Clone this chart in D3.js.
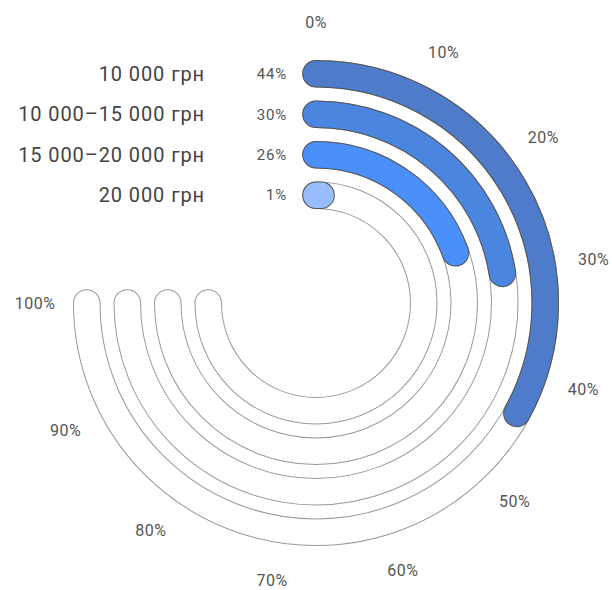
<!DOCTYPE html>
<html>
<head>
<meta charset="utf-8">
<script src="https://cdn.jsdelivr.net/npm/d3@7"></script>
<style>
  body { margin: 0; background: #fff; }
  svg { font-family: Roboto, "Noto Sans", sans-serif; }
</style>
</head>
<body>
<div id="chart"></div>
<script>
// data
const categories = ["10 000 грн", "10 000–15 000 грн", "15 000–20 000 грн", "20 000 грн"];
const values = [44, 30, 26, 1];
const colors = ["#4e7ccb", "#4a85e0", "#4b8ffb", "#99bcfd"];
const tickValues = [0, 10, 20, 30, 40, 50, 60, 70, 80, 90, 100];

const width = 612, height = 590;
const cx = 316, cy = 303;

const svg = d3.select("#chart")
    .append("svg")
    .attr("width", width)
    .attr("height", height);

const g = svg.append("g")
    .attr("transform", `translate(${cx},${cy})`);

// value -> angle (0..270 degrees, clockwise from top)
const angle = d3.scaleLinear()
    .domain([0, 100])
    .range([0, 1.5 * Math.PI]);

// outermost ring is the first category
const radius = d3.scaleBand()
    .domain(categories.slice().reverse())
    .range([94, 243])
    .paddingInner(0.32)
    .paddingOuter(0);

const bw = radius.bandwidth();

function arcPath(r, a1) {
    const p = d3.path();
    p.arc(0, 0, r, -Math.PI / 2, -Math.PI / 2 + a1, false);
    return p.toString();
}

// background tracks (grey outline, white inside)
categories.forEach(c => {
    const r = radius(c) + bw / 2;
    g.append("path")
        .attr("d", arcPath(r, angle(100)))
        .attr("fill", "none")
        .attr("stroke", "#9a9a9a")
        .attr("stroke-width", bw)
        .attr("stroke-linecap", "round");
    g.append("path")
        .attr("d", arcPath(r, angle(100)))
        .attr("fill", "none")
        .attr("stroke", "#fff")
        .attr("stroke-width", bw - 2)
        .attr("stroke-linecap", "round");
});

// value bars
categories.forEach((c, i) => {
    const r = radius(c) + bw / 2;
    const a = Math.max(angle(values[i]), 0.001);
    g.append("path")
        .attr("d", arcPath(r, a))
        .attr("fill", "none")
        .attr("stroke", "#555")
        .attr("stroke-width", bw)
        .attr("stroke-linecap", "round");
    g.append("path")
        .attr("d", arcPath(r, a))
        .attr("fill", "none")
        .attr("stroke", colors[i])
        .attr("stroke-width", bw - 2)
        .attr("stroke-linecap", "round");
});

// category labels and values on the left of the start line
categories.forEach((c, i) => {
    const y = -(radius(c) + bw / 2);
    g.append("text")
        .attr("x", 205 - cx)
        .attr("y", y)
        .attr("dy", "0.35em")
        .attr("text-anchor", "end")
        .attr("font-size", 20)
        .attr("letter-spacing", 0.9)
        .attr("fill", "#444")
        .text(c);
    g.append("text")
        .attr("x", 287 - cx)
        .attr("y", y)
        .attr("dy", "0.35em")
        .attr("text-anchor", "end")
        .attr("font-size", 15)
        .attr("letter-spacing", 0.8)
        .attr("fill", "#555")
        .text(values[i] + "%");
});

// angular tick labels
const labelR = 281;
g.selectAll("text.tick")
    .data(tickValues)
    .enter()
    .append("text")
    .attr("class", "tick")
    .attr("x", d => labelR * Math.sin(angle(d)))
    .attr("y", d => -labelR * Math.cos(angle(d)))
    .attr("dy", "0.35em")
    .attr("text-anchor", "middle")
    .attr("font-size", 16)
    .attr("letter-spacing", 0.5)
    .attr("fill", "#555")
    .text(d => d + "%");
</script>
</body>
</html>
